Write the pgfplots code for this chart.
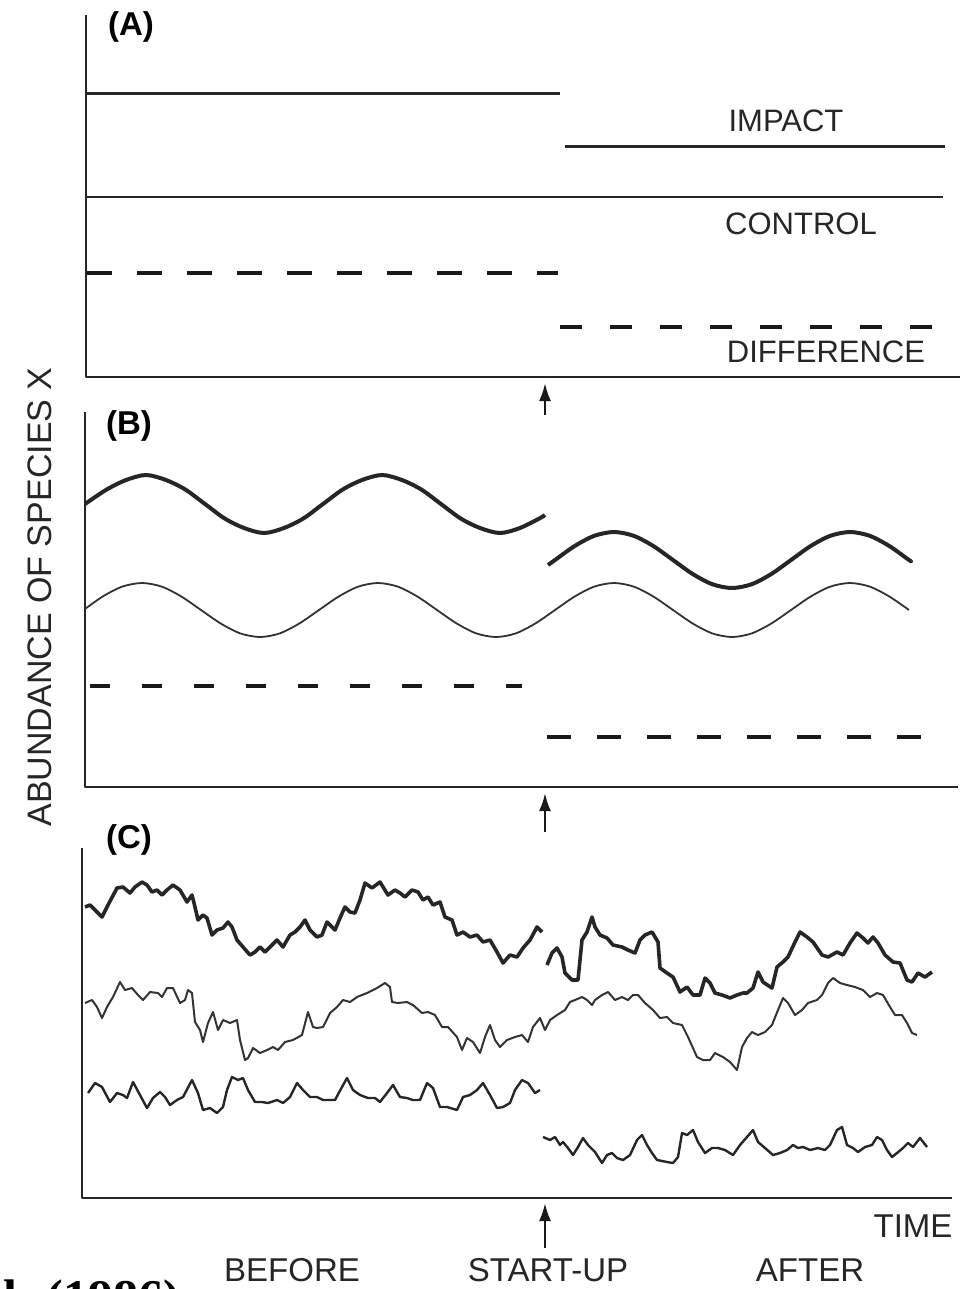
\documentclass[border=0pt]{standalone}
\usepackage{fontspec}
\setmainfont{Liberation Sans}
\newfontfamily\refserif{Liberation Serif}
\usepackage{pgfplots}
\pgfplotsset{compat=1.18}
\usetikzlibrary{arrows.meta}

% all positions in pixels of the 969x1289 reference, 1px = 0.5pt
\pgfplotsset{
  panel/.style={scale only axis, hide axis, clip=false, y dir=reverse,
    anchor=north west, line join=round},
  imp/.style={black!85, line width=1.8pt},
  ctl/.style={black!80, line width=1pt},
  dif/.style={black!85, line width=1.2pt},
}
\newcommand\lab{\fontsize{15.5}{18}\selectfont}
\newcommand\bigf{\fontsize{16.5}{19}\selectfont}
\newcommand\axes[4]{\draw[black!85, line width=1.2pt]
  (axis cs:#1,#2) -- (axis cs:#1,#4) -- (axis cs:#3,#4);}

\begin{document}
\begin{tikzpicture}[x=0.5pt, y=-0.5pt]
\useasboundingbox (0,0) rectangle (969,1289);

% ---------------- (A) ----------------
\begin{axis}[panel, at={(86,15)}, width=437pt, height=181pt,
  xmin=86, xmax=960, ymin=15, ymax=377]
\axes{86}{15}{960}{377}
\addplot[black!85, line width=1.5pt] coordinates {(86,93) (560,93)};
\addplot[black!85, line width=1.5pt] coordinates {(565,146) (945,146)};
\addplot[black!85, line width=1.3pt] coordinates {(86,197) (943,197)};
\addplot[black!90, line width=2pt, dash pattern=on 12.5pt off 12.5pt]
  coordinates {(87,273) (558,273)};
\addplot[black!90, line width=2pt, dash pattern=on 11pt off 14pt]
  coordinates {(560,327) (953,327)};
\node[font=\bigf\bfseries] at (axis cs:131,27) {(A)};
\node[font=\lab, black!85] at (axis cs:786,121) {IMPACT};
\node[font=\lab, black!85] at (axis cs:801,224) {CONTROL};
\node[font=\lab, black!85] at (axis cs:826,352) {DIFFERENCE};
\end{axis}

% ---------------- (B) ----------------
\begin{axis}[panel, at={(85,412)}, width=436.5pt, height=187.5pt,
  xmin=85, xmax=958, ymin=412, ymax=787]
\axes{85}{412}{958}{787}
\addplot[imp, line width=2pt, smooth] coordinates {
 (85,504) (106.7,489.5) (126.3,479.9) (146,475) (165.7,479.9) (185.3,489.5)
 (205,504) (224.7,518.5) (244.3,528.1) (264,533) (283.7,528.1) (303.3,518.5)
 (323,504) (342.7,489.5) (362.3,479.9) (382,475) (401.7,479.9) (421.3,489.5)
 (441,504) (460.7,518.5) (480.3,528.1) (500,533) (519.7,528.1) (539.3,518.5)
 (545,515)};
\addplot[imp, line width=2pt, smooth] coordinates {
 (548,565) (555,560) (574.7,546) (594.3,535.8) (614,532) (633.7,535.8)
 (653.3,546) (673,560) (692.7,574) (712.3,584.2) (732,588) (751.7,584.2)
 (771.3,574) (791,560) (810.7,546) (830.3,535.8) (850,532) (869.7,535.8)
 (889.3,546) (909,560) (911,561)};
\addplot[ctl, line width=0.9pt, smooth] coordinates {
 (85,609) (102.7,596.5) (122.3,586.6) (142,583) (161.7,586.6) (181.3,596.5)
 (201,610) (220.7,623.5) (240.3,633.4) (260,637) (279.7,633.4) (299.3,623.5)
 (319,610) (338.7,596.5) (358.3,586.6) (378,583) (397.7,586.6) (417.3,596.5)
 (437,610) (456.7,623.5) (476.3,633.4) (496,637) (515.7,633.4) (535.3,623.5)
 (555,610) (574.7,596.5) (594.3,586.6) (614,583) (633.7,586.6) (653.3,596.5)
 (673,610) (692.7,623.5) (712.3,633.4) (732,637) (751.7,633.4) (771.3,623.5)
 (791,610) (810.7,596.5) (830.3,586.6) (850,583) (869.7,586.6) (889.3,596.5)
 (909,610)};
\addplot[black!90, line width=2pt, dash pattern=on 10pt off 16pt]
  coordinates {(90,686) (522,686)};
\addplot[black!90, line width=2.4pt, dash pattern=on 12pt off 13pt]
  coordinates {(547,737) (933,737)};
\node[font=\bigf\bfseries] at (axis cs:129,426) {(B)};
\end{axis}

% ---------------- (C) ----------------
\begin{axis}[panel, at={(82,848)}, width=435pt, height=175pt,
  xmin=82, xmax=952, ymin=848, ymax=1198]
\axes{82}{848}{952}{1198}
\addplot[imp] coordinates {
 (85,907) (90,905) (95,910) (102,917) (108,905) (117,888) (123,887) (130,893)
 (135,887) (142,882) (147,885) (152,892) (157,890) (162,895) (167,890) (173,885)
 (180,890) (187,902) (192,895) (195,907) (198,920) (203,915) (207,918) (212,935)
 (217,930) (223,928) (228,922) (232,927) (237,940) (243,947) (250,955) (255,952)
 (260,947) (265,952) (272,945) (277,940) (283,947) (290,935) (295,932) (300,927)
 (305,920) (310,930) (317,937) (322,935) (327,922) (335,930) (340,918) (345,907)
 (350,912) (355,913) (360,900) (365,883) (372,888) (380,882) (388,895) (395,890)
 (400,893) (405,897) (412,890) (418,892) (423,900) (428,897) (433,905) (440,902)
 (445,917) (452,920) (457,935) (463,932) (470,937) (477,935) (483,942) (490,940)
 (497,952) (503,963) (510,955) (517,957) (523,948) (530,940) (537,927) (542,932)};
\addplot[imp] coordinates {
 (547,965) (552,953) (557,948) (562,957) (565,973) (572,980) (578,980) (582,940)
 (587,932) (592,917) (595,927) (600,935) (607,938) (613,945) (622,947) (628,950)
 (635,953) (640,940) (645,935) (652,932) (658,942) (660,968) (667,973) (673,977)
 (680,992) (687,987) (693,995) (700,995) (705,978) (710,983) (715,993) (722,995)
 (730,998) (737,995) (743,993) (747,993) (753,988) (758,972) (763,982) (772,988)
 (777,967) (783,962) (788,957) (795,942) (800,932) (807,937) (813,942) (822,955)
 (828,957) (837,952) (843,955) (850,943) (857,933) (863,938) (868,943) (873,937)
 (878,943) (885,955) (893,962) (900,963) (907,980) (912,982) (918,973) (925,977)
 (932,972)};
\addplot[ctl] coordinates {
 (85,1003) (92,1000) (97,1007) (102,1018) (107,1007) (113,997) (120,982) (125,990)
 (132,988) (138,995) (143,1000) (150,992) (158,993) (162,997) (167,988) (173,988)
 (180,1003) (185,1000) (188,990) (192,993) (195,1022) (200,1030) (203,1042)
 (208,1023) (213,1012) (218,1030) (223,1020) (230,1023) (237,1020) (240,1040)
 (245,1060) (248,1058) (253,1048) (260,1053) (267,1050) (273,1047) (278,1050)
 (285,1042) (293,1040) (302,1035) (308,1012) (313,1027) (317,1028) (323,1027)
 (330,1013) (337,1007) (343,1000) (350,1002) (357,997) (367,993) (377,988)
 (385,983) (390,987) (392,1002) (398,1003) (407,1002) (413,1005) (422,1013)
 (428,1012) (435,1015) (442,1027) (448,1027) (457,1037) (462,1050) (467,1038)
 (473,1042) (480,1053) (485,1037) (490,1025) (495,1040) (500,1047) (507,1040)
 (515,1037) (522,1035) (528,1042) (533,1027) (540,1018) (545,1030) (550,1020)
 (557,1015) (565,1010) (570,1002) (575,1000) (582,997) (587,1000) (592,1005)
 (595,1000) (602,995) (608,992) (615,1000) (622,997) (628,1000) (633,995)
 (638,995) (645,1003) (653,1010) (660,1018) (667,1017) (673,1023) (682,1025)
 (688,1037) (697,1057) (703,1060) (710,1060) (715,1053) (723,1057) (730,1062)
 (737,1070) (742,1047) (747,1038) (752,1032) (758,1035) (765,1032) (772,1025)
 (778,1010) (783,998) (788,1003) (795,1015) (802,1010) (808,1003) (817,1000)
 (822,995) (828,983) (833,978) (840,983) (847,985) (855,987) (863,990) (870,997)
 (877,993) (883,995) (890,1007) (895,1015) (902,1015) (907,1023) (912,1033)
 (917,1035)};
\addplot[dif] coordinates {
 (88,1093) (95,1083) (102,1087) (110,1102) (117,1093) (123,1095) (127,1098)
 (133,1082) (140,1095) (147,1108) (153,1098) (160,1092) (165,1097) (170,1105)
 (177,1100) (183,1097) (192,1080) (198,1093) (203,1110) (210,1108) (217,1113)
 (223,1107) (227,1090) (232,1077) (238,1080) (243,1078) (248,1090) (255,1102)
 (262,1102) (268,1103) (277,1100) (283,1103) (290,1097) (297,1083) (303,1090)
 (310,1097) (317,1097) (323,1100) (335,1100) (342,1087) (347,1078) (353,1090)
 (360,1095) (368,1098) (375,1098) (380,1102) (387,1093) (393,1085) (400,1097)
 (407,1098) (413,1100) (420,1100) (427,1083) (433,1088) (440,1107) (447,1107)
 (457,1110) (463,1097) (470,1095) (477,1090) (483,1083) (490,1095) (497,1108)
 (503,1107) (510,1103) (515,1090) (522,1080) (528,1083) (535,1093) (540,1090)};
\addplot[dif] coordinates {
 (543,1137) (550,1140) (555,1137) (560,1145) (563,1142) (568,1148) (573,1155)
 (578,1147) (583,1138) (588,1145) (595,1152) (602,1163) (607,1155) (612,1153)
 (617,1158) (623,1160) (630,1155) (637,1140) (642,1135) (647,1145) (652,1153)
 (657,1160) (667,1162) (673,1163) (678,1157) (682,1133) (687,1135) (693,1130)
 (698,1142) (705,1153) (712,1148) (718,1148) (725,1150) (733,1155) (740,1145)
 (747,1137) (753,1130) (758,1142) (765,1148) (773,1155) (780,1153) (787,1150)
 (793,1145) (798,1148) (803,1147) (810,1150) (818,1148) (825,1150) (830,1145)
 (837,1130) (842,1127) (847,1145) (853,1148) (858,1152) (865,1147) (872,1145)
 (877,1137) (882,1140) (887,1150) (892,1157) (897,1153) (903,1148) (908,1143)
 (913,1147) (920,1138) (927,1147)};
\node[font=\bigf\bfseries] at (axis cs:129,840) {(C)};
\end{axis}

% start-up arrows
\tikzset{startup/.style={black!90, line width=1.2pt,
  -{Latex[length=9pt, width=6pt]}}}
\draw[startup] (545,415) -- (545,383);
\draw[startup] (545,832) -- (545,793);
\draw[startup] (545,1248) -- (545,1203);

\node[font=\fontsize{17}{20}\selectfont, black!85, rotate=90] at (40,597)
  {ABUNDANCE OF SPECIES X};
\node[font=\bigf, black!85] at (913,1226) {TIME};
\node[font=\bigf, black!85] at (292,1270) {BEFORE};
\node[font=\bigf, black!85] at (548,1270) {START-UP};
\node[font=\bigf, black!85] at (810,1270) {AFTER};
\node[font=\refserif\bfseries\fontsize{25}{28}\selectfont, anchor=base west,
  inner sep=0pt] at (3,1314) {l. (1986)};
\end{tikzpicture}
\end{document}
